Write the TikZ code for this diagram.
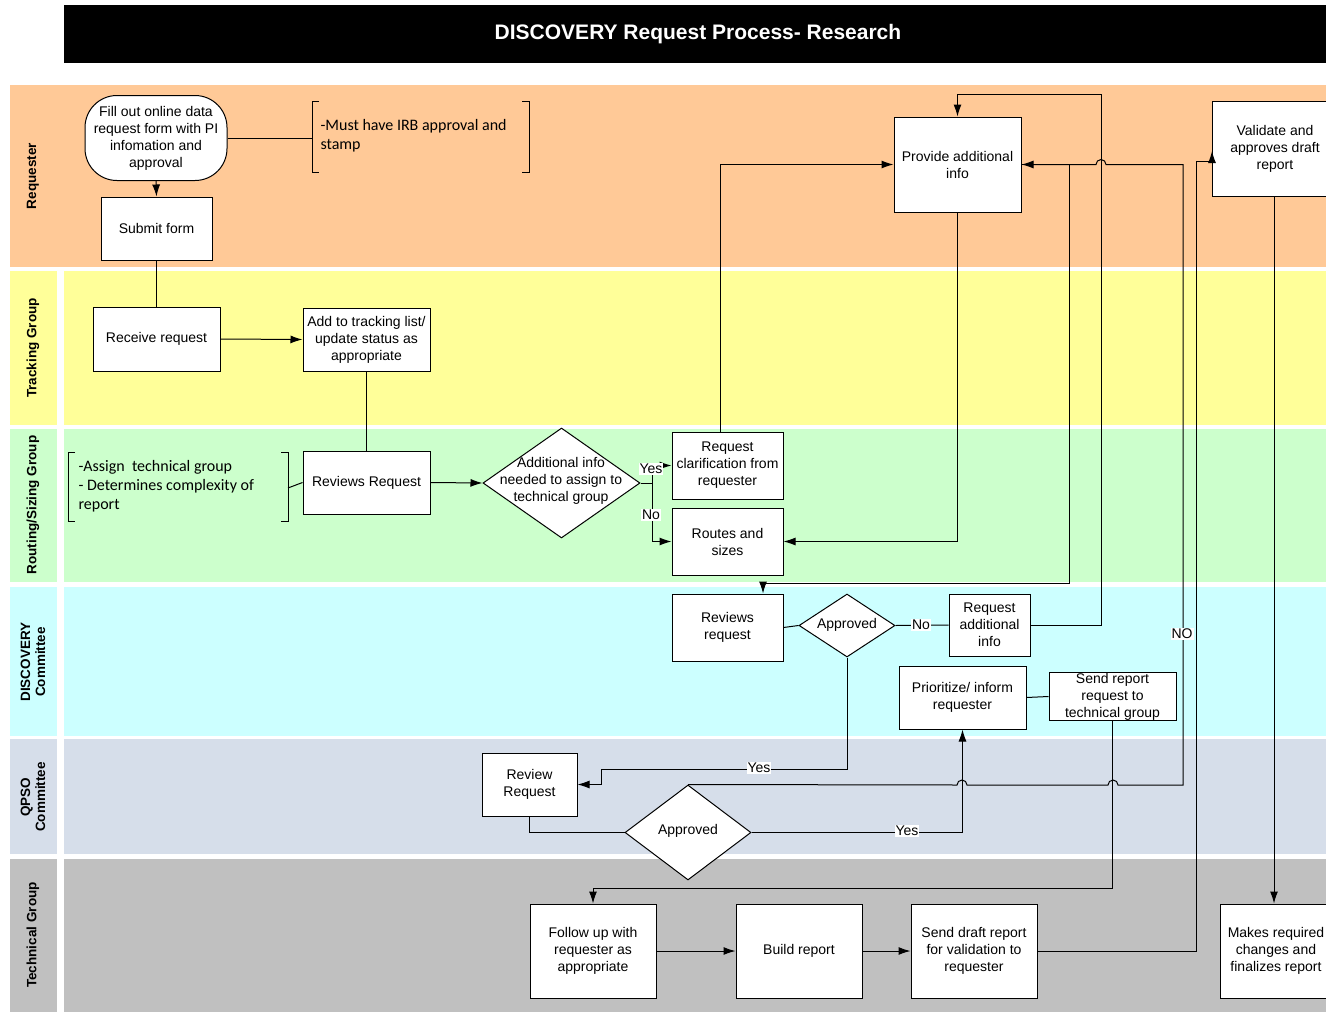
\documentclass[tikz,border=0pt]{standalone}
\usepackage{fontspec}
\setmainfont{Liberation Sans}
\newfontfamily\notefont{Carlito}
\usetikzlibrary{arrows.meta,shapes.geometric}
\definecolor{reqc}{RGB}{255,201,151}
\definecolor{trkc}{RGB}{255,255,153}
\definecolor{rouc}{RGB}{204,255,204}
\definecolor{disc}{RGB}{204,255,255}
\definecolor{qpsc}{RGB}{214,222,234}
\definecolor{tecc}{RGB}{192,192,192}
\begin{document}
\begin{tikzpicture}[x=1pt,y=-1pt,
  box/.style={draw,fill=white,line width=1pt,align=center,inner sep=0pt,font=\fontsize{14}{17}\selectfont},
  dia/.style={draw,fill=white,line width=1pt,shape=diamond,inner sep=0pt},
  txt/.style={align=center,font=\fontsize{14}{17}\selectfont},
  lane/.style={rotate=90,align=center,font=\fontsize{13.5}{15}\selectfont\bfseries},
  note/.style={anchor=west,align=left,font=\notefont\fontsize{16}{19}\selectfont},
  lbl/.style={fill=white,inner sep=1pt,font=\fontsize{14}{15}\selectfont},
  con/.style={line width=1pt},
  arr/.style={line width=1pt,-{Latex[length=12pt,width=8pt]}}]
\useasboundingbox (0,0) rectangle (1326,1012);
\fill[white] (0,0) rectangle (1326,1012);
% title
\fill[black] (64,5) rectangle (1326,63);
\node[text=white,font=\fontsize{21}{24}\selectfont\bfseries] (title) at (698,34) {DISCOVERY Request Process- Research};
% lanes
\fill[reqc] (10,85) rectangle (1326,267);
\fill[trkc] (10,271) rectangle (57,425); \fill[trkc] (64,271) rectangle (1326,425);
\fill[rouc] (10,429) rectangle (57,582); \fill[rouc] (64,429) rectangle (1326,582);
\fill[disc] (10,587) rectangle (57,736); \fill[disc] (64,587) rectangle (1326,736);
\fill[qpsc] (10,739) rectangle (57,854); \fill[qpsc] (64,739) rectangle (1326,854);
\fill[tecc] (10,859) rectangle (57,1012); \fill[tecc] (64,859) rectangle (1326,1012);
\node[lane] (l1) at (33,176) {Requester};
\node[lane] (l2) at (33,348) {Tracking Group};
\node[lane] (l3) at (33,505) {Routing/Sizing Group};
\node[lane] (l4) at (33,662) {DISCOVERY\\Committee};
\node[lane] (l5) at (33,797) {QPSO\\Committee};
\node[lane] (l6) at (33,935) {Technical Group};
% notes
\draw[con] (319,101) -- (312,101) -- (312,172) -- (319,172);
\draw[con] (522,101) -- (529,101) -- (529,172) -- (522,172);
\coordinate (b1) at (312,138);
\node[note] (n1) at (317,136) {-Must have IRB approval and\\stamp};
\draw[con] (75,452) -- (68,452) -- (68,521) -- (75,521);
\draw[con] (281,452) -- (288,452) -- (288,521) -- (281,521);
\coordinate (b2) at (288,488);
\node[note] (n2) at (75,486) {-Assign\ \ technical group\\- Determines complexity of\\report};
% nodes
\node[box,rounded corners=32pt,minimum width=142,minimum height=85] (fill) at (156,138) {Fill out online data\\request form with PI\\infomation and\\approval};
\node[box,minimum width=111,minimum height=63] (submit) at (156.5,228.5) {Submit form};
\node[box,minimum width=127,minimum height=64] (receive) at (156.5,339) {Receive request};
\node[box,minimum width=127,minimum height=63] (add) at (366.5,339.5) {Add to tracking list/\\update status as\\appropriate};
\node[box,minimum width=127,minimum height=63] (rev1) at (366.5,482.5) {Reviews Request};
\node[dia,minimum width=157,minimum height=110] (d1) at (561.5,483) {};
\node[txt] (d1t) at (561,481) {Additional info\\needed to assign to\\technical group};
\node[box,minimum width=111,minimum height=67] (clar) at (727.5,465.5) {Request\\clarification from\\requester};
\node[box,minimum width=111,minimum height=67] (routes) at (727.5,541.5) {Routes and\\sizes};
\node[box,minimum width=127,minimum height=95] (provide) at (957.5,164.5) {Provide additional\\info};
\node[box,minimum width=126,minimum height=95] (validate) at (1275,148.5) {Validate and\\approves draft\\report};
\node[box,minimum width=111,minimum height=67] (revd) at (727.5,627.5) {Reviews\\request};
\node[dia,minimum width=96,minimum height=63] (d2) at (847,625.5) {};
\node[txt] (d2t) at (847,625) {Approved};
\node[box,minimum width=81,minimum height=62] (reqadd) at (989.5,625) {Request\\additional\\info};
\node[box,minimum width=127,minimum height=63] (prio) at (962.5,697.5) {Prioritize/ inform\\requester};
\node[box,minimum width=127,minimum height=47] (sendreq) at (1112.5,696.5) {Send report\\request to\\technical group};
\node[box,minimum width=95,minimum height=63] (revq) at (529.5,784.5) {Review\\Request};
\node[dia,minimum width=126,minimum height=95] (d3) at (688,832.5) {};
\node[txt] (d3t) at (688,831) {Approved};
\node[box,minimum width=126,minimum height=94] (follow) at (593,951) {Follow up with\\requester as\\appropriate};
\node[box,minimum width=126,minimum height=94] (build) at (799,951) {Build report};
\node[box,minimum width=126,minimum height=94] (senddraft) at (974,951) {Send draft report\\for validation to\\requester};
\node[box,minimum width=112,minimum height=94] (makes) at (1276,951) {Makes required\\changes and\\finalizes report};
% connectors
\draw[arr] (fill.south) -- (submit.north);
\draw[con] (fill.east) -- (b1);
\draw[con] (submit.south) -- (receive.north);
\draw[arr] (receive.east) -- (add.west);
\draw[con] (add.south) -- (rev1.north);
\draw[con] (b2) -- (rev1.west);
\draw[arr] (rev1.east) -- (d1.west);
\draw[arr] (d1.east) -- (652,483) |- (clar.west);
\draw[arr] (d1.east) -- (652,483) |- (routes.west);
\node[lbl] (yes1) at (651,469) {Yes};
\node[lbl] (no1) at (651,515) {No};
\draw[arr] ([xshift=-7pt]clar.north) |- (provide.west);
\draw[arr] (provide.south) |- (routes.east);
\draw[arr] (provide.east) -- (1069,164.5) -- (1069,583) -- (763,583) -- ([xshift=35.5pt]revd.north);
\draw[arr] (d3.north) -- (957,785) arc[start angle=180,end angle=360,radius=5] -- (1108,785) arc[start angle=180,end angle=360,radius=5] -- (1183,785) -- (1183,164.5) -- (1106,164.5) arc[start angle=0,end angle=-180,radius=5] -- (provide.east);
\node[lbl] (no3) at (1182,634) {NO};
\draw[con] (revd.east) -- (d2.west);
\draw[con] (d2.east) -- (reqadd.west);
\node[lbl] (no2) at (921,625) {No};
\draw[arr] (reqadd.east) -- (1101,625) -- (1101,94) -- (957.5,94) -- (provide.north);
\draw[arr] (d2.south) -- (847,769) -- (601,769) -- (601,784.5) -- (revq.east);
\node[lbl] (yes2) at (759,768) {Yes};
\draw[con] (revq.south) |- (d3.west);
\draw[arr] (d3.east) -- (962.5,832.5) -- (prio.south);
\node[lbl] (yes3) at (907,831) {Yes};
\draw[con] (prio.east) -- (sendreq.west);
\draw[arr] (sendreq.south) -- (1112.5,888) -- (593,888) -- (follow.north);
\draw[arr] (follow.east) -- (build.west);
\draw[arr] (build.east) -- (senddraft.west);
\coordinate (vtip) at (1212,151);
\draw[arr] (senddraft.east) -- (1196,951) -- (1196,161) -- (1212,161) -- (vtip);
\draw[arr] ([xshift=-1pt]validate.south) -- ([xshift=-2pt]makes.north);
\end{tikzpicture}
\end{document}
